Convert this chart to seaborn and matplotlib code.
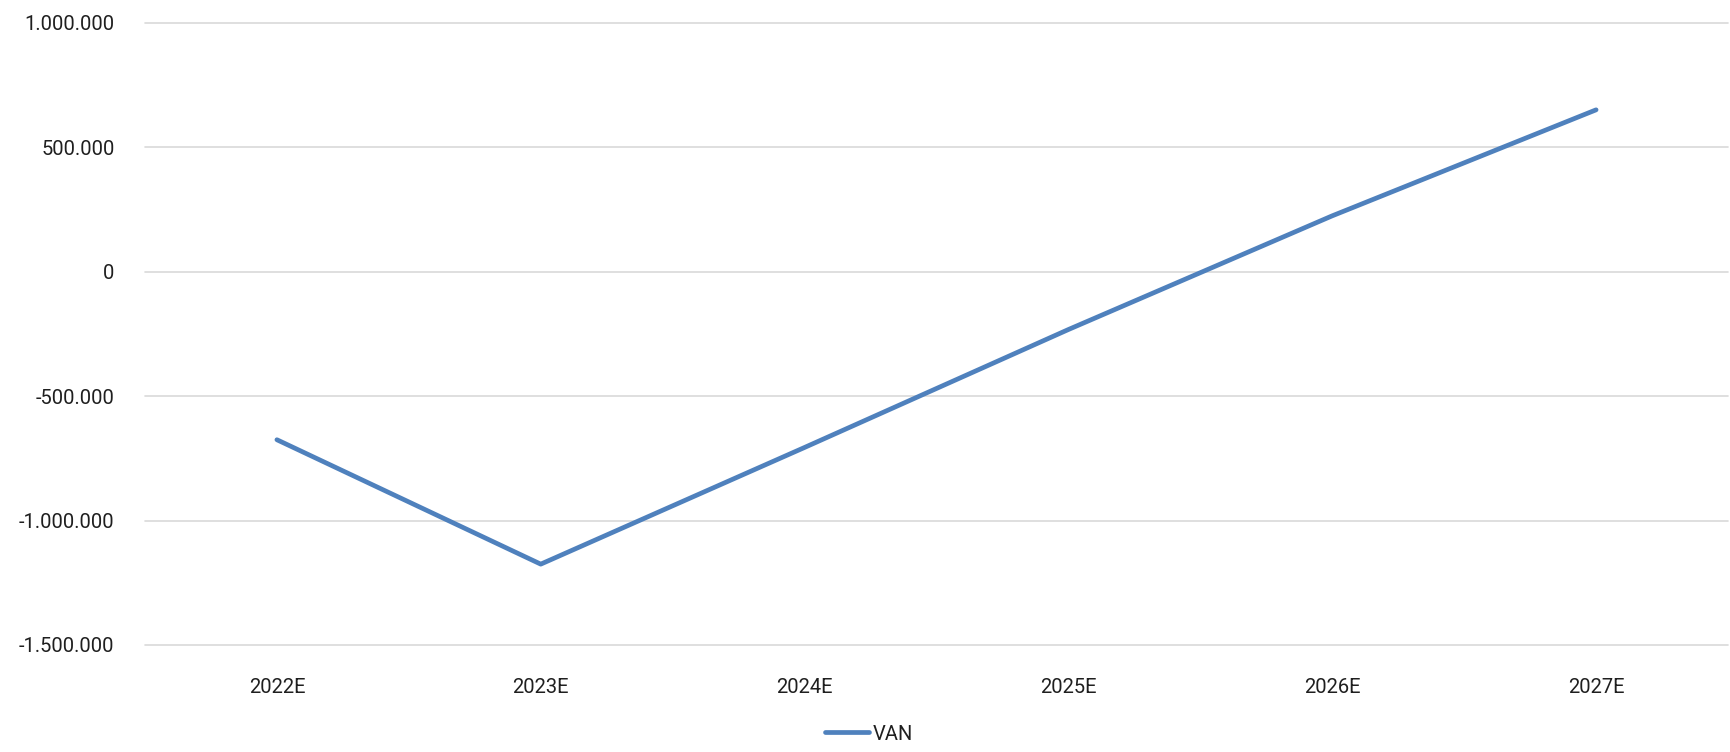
import matplotlib
matplotlib.use("Agg")
import matplotlib.pyplot as plt
from matplotlib.ticker import FuncFormatter
import seaborn as sns
import pandas as pd

# Net present value per projected year
years = ["2022E", "2023E", "2024E", "2025E", "2026E", "2027E"]
van = [-675000, -1175000, -706000, -232000, 225000, 651000]
y_ticks = [-1500000, -1000000, -500000, 0, 500000, 1000000]

df = pd.DataFrame({"Año": years, "VAN": van})

sns.set_theme(style="white")
plt.rcParams["font.family"] = ["Roboto", "DejaVu Sans"]

W, H = 1731, 752
fig = plt.figure(figsize=(W / 100, H / 100), dpi=100)
ax = fig.add_axes([145 / W, 1 - 645 / H, (1728 - 145) / W, (645 - 23) / H])

sns.lineplot(data=df, x="Año", y="VAN", ax=ax, color="#4f81bd",
             linewidth=3.4, label="VAN", sort=False)

ax.set_xlim(-0.5, len(years) - 0.5)
ax.set_ylim(y_ticks[0], y_ticks[-1])
ax.set_yticks(y_ticks)
ax.yaxis.set_major_formatter(
    FuncFormatter(lambda v, _: f"{int(v):,}".replace(",", "."))
)
ax.grid(axis="y", color="#d9d9d9", linewidth=1.2)
ax.grid(axis="x", visible=False)
for gl in ax.get_ygridlines():
    gl.set_clip_on(False)
for s in ax.spines.values():
    s.set_visible(False)

ax.tick_params(axis="y", length=0, pad=22, labelsize=14.5, labelcolor="#1f1f1f")
ax.tick_params(axis="x", length=0, pad=24, labelsize=14.5, labelcolor="#1f1f1f")
ax.set_xlabel("")
ax.set_ylabel("")

ax.get_legend().remove()
handles, labels = ax.get_legend_handles_labels()
fig.legend(handles, labels, loc="center", bbox_to_anchor=(0.502, 1 - 734 / H),
           frameon=False, fontsize=14.5, handlelength=2.2, handletextpad=0.2,
           labelcolor="#1f1f1f")

fig.savefig("out.png", dpi=100, facecolor="white")
